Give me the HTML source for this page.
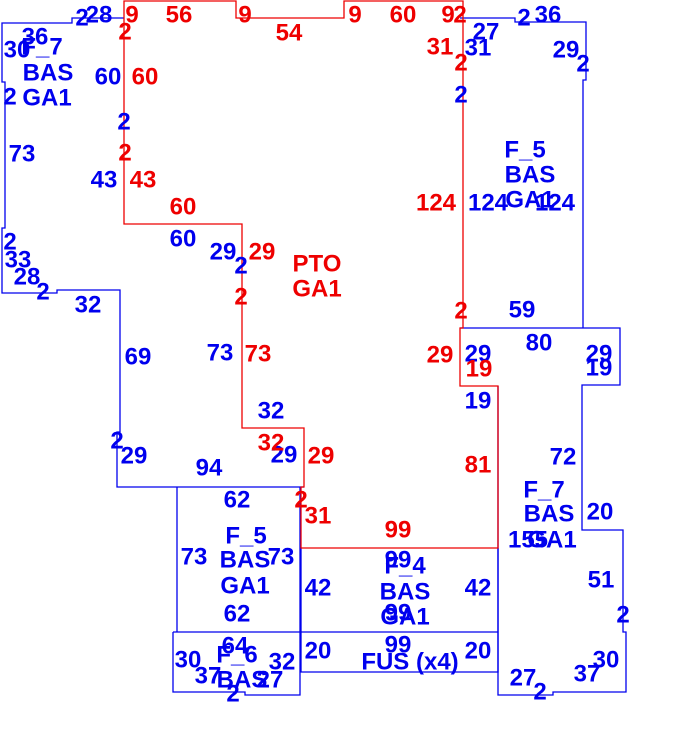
<!DOCTYPE html>
<html><head><style>
html,body{margin:0;padding:0;background:#fff;width:676px;height:746px;overflow:hidden}
svg text{font-family:"Liberation Sans",Arial,sans-serif;font-weight:bold;font-size:24px;text-anchor:middle;dominant-baseline:central}
.b{fill:#0000ee}.r{fill:#ee0000}
</style></head><body>
<svg width="676" height="746" viewBox="0 0 676 746" xmlns="http://www.w3.org/2000/svg">
<g fill="none" stroke="#0000ee" stroke-width="1.3">
<path d="M124,18 H72 V23 H2 V82 H5 V228 H2 V293 H57 V290 H120 V432 H117 V487 H304"/>
<path d="M460,18 H515 V22 H586 V80 H583 V328 H460 M583,328 H620 V385 H582 V530 H623 V632 H626 V692 H553 V695 H498 V386"/>
<path d="M177,487 V632 M300,487 V632"/>
<path d="M173,632 H498 M173,632 V692 H245 V695 H300 V632"/>
<path d="M301,548 V672 H498 V548"/>
</g>
<path fill="none" stroke="#ee0000" stroke-width="1.3" d="M124,224 V1 H236 V18 H344 V1 H463 V328 H460 V386 H498 V548 H301 V487 H304 V428 H242 V224 Z"/>
<g class="b">
<text x="82" y="18">2</text><text x="99" y="15">28</text>
<text x="35" y="37">36</text><text x="17" y="50">30</text><text x="42" y="47">F_7</text>
<text x="48" y="73">BAS</text><text x="47" y="98">GA1</text><text x="10" y="97">2</text>
<text x="108" y="77">60</text><text x="124" y="122">2</text><text x="22" y="154">73</text>
<text x="104" y="180">43</text><text x="183" y="239">60</text><text x="223" y="252">29</text>
<text x="241" y="266">2</text><text x="10" y="242">2</text><text x="18" y="260">33</text>
<text x="27" y="277">28</text><text x="43" y="292">2</text><text x="88" y="305">32</text>
<text x="138" y="357">69</text><text x="220" y="353">73</text><text x="271" y="411">32</text>
<text x="117" y="441">2</text><text x="134" y="456">29</text><text x="209" y="468">94</text>
<text x="284" y="455">29</text><text x="237" y="500">62</text><text x="246" y="536">F_5</text>
<text x="245" y="560">BAS</text><text x="245" y="586">GA1</text><text x="194" y="557">73</text>
<text x="281" y="557">73</text><text x="237" y="614">62</text><text x="318" y="588">42</text>
<text x="398" y="560">99</text><text x="405" y="566">F_4</text><text x="405" y="592">BAS</text>
<text x="405" y="617">GA1</text><text x="398" y="613">99</text><text x="478" y="588">42</text>
<text x="235" y="646">64</text><text x="237" y="655">F_6</text><text x="242" y="680">BAS</text>
<text x="188" y="660">30</text><text x="208" y="676">37</text><text x="282" y="662">32</text>
<text x="270" y="680">27</text><text x="233" y="694">2</text><text x="318" y="651">20</text>
<text x="398" y="645">99</text><text x="410" y="662">FUS (x4)</text><text x="478" y="651">20</text>
<text x="523" y="678">27</text><text x="540" y="692">2</text><text x="587" y="674">37</text>
<text x="606" y="660">30</text><text x="623" y="615">2</text><text x="601" y="580">51</text>
<text x="600" y="512">20</text><text x="544" y="490">F_7</text><text x="549" y="514">BAS</text>
<text x="552" y="540">GA1</text><text x="528" y="540">155</text><text x="563" y="457">72</text>
<text x="478" y="401">19</text><text x="478" y="354">29</text><text x="539" y="343">80</text>
<text x="522" y="310">59</text><text x="599" y="354">29</text><text x="599" y="368">19</text>
<text x="525" y="150">F_5</text><text x="530" y="175">BAS</text><text x="530" y="200">GA1</text>
<text x="488" y="203">124</text><text x="555" y="203">124</text><text x="461" y="95">2</text>
<text x="478" y="48">31</text><text x="486" y="32">27</text><text x="524" y="18">2</text>
<text x="548" y="15">36</text><text x="566" y="50">29</text><text x="583" y="64">2</text>
</g>
<g class="r">
<text x="132" y="15">9</text><text x="179" y="15">56</text><text x="245" y="15">9</text>
<text x="289" y="33">54</text><text x="355" y="15">9</text><text x="403" y="15">60</text>
<text x="448" y="15">9</text><text x="460" y="15">2</text><text x="125" y="32">2</text>
<text x="145" y="77">60</text><text x="125" y="153">2</text><text x="143" y="180">43</text>
<text x="183" y="207">60</text><text x="262" y="252">29</text><text x="317" y="264">PTO</text>
<text x="317" y="289">GA1</text><text x="241" y="297">2</text><text x="258" y="354">73</text>
<text x="440" y="47">31</text><text x="461" y="63">2</text><text x="436" y="203">124</text>
<text x="461" y="311">2</text><text x="440" y="355">29</text><text x="479" y="369">19</text>
<text x="271" y="443">32</text><text x="321" y="456">29</text><text x="301" y="500">2</text>
<text x="318" y="516">31</text><text x="478" y="465">81</text><text x="398" y="530">99</text>
</g>
</svg>
</body></html>
